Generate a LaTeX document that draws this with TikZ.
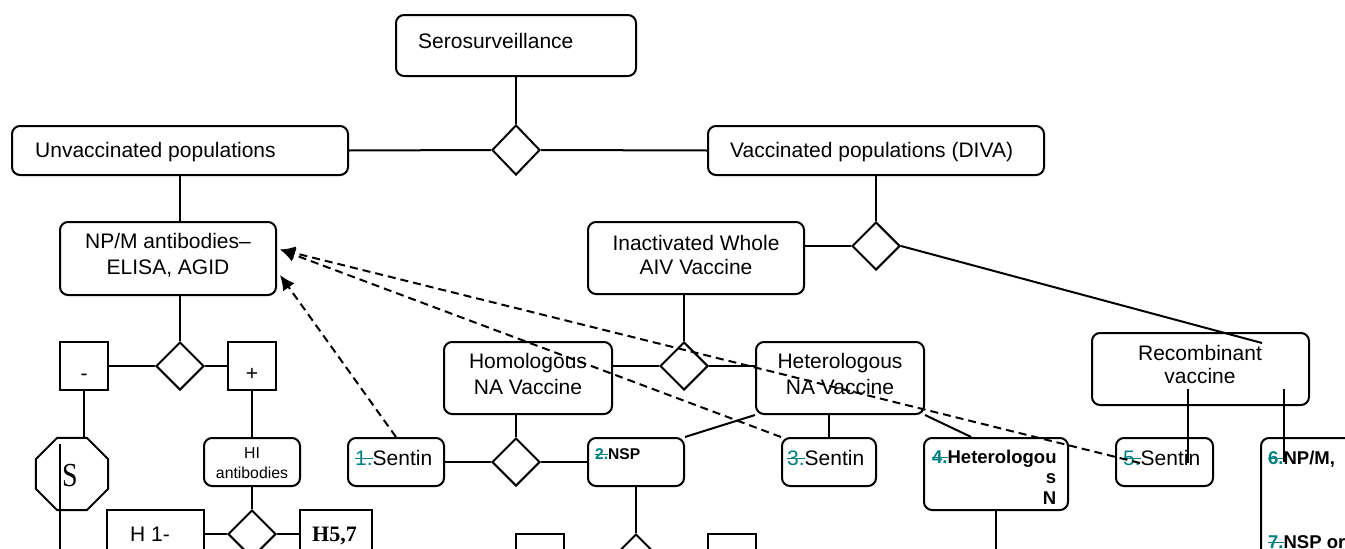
\documentclass[tikz,border=0pt]{standalone}
\usepackage{fontspec}
\setmainfont{Liberation Sans}
\newfontfamily\timesfont{Liberation Serif}
\usetikzlibrary{shapes.geometric,arrows.meta,calc}
\definecolor{numteal}{RGB}{0,128,128}
% teal item number with a line struck through it
\newcommand{\struck}[1]{\textcolor{numteal}{\setbox0=\hbox{#1}\rlap{\rule[0.27em]{\wd0}{0.07em}}\box0}}
\tikzset{
  box/.style={draw, rounded corners=8pt, line width=2pt, inner sep=0pt},
  sqbox/.style={draw, line width=2pt, inner sep=0pt},
  dia/.style={draw, diamond, line width=2pt, inner sep=0pt, minimum width=48pt, minimum height=48pt},
  link/.style={line width=2pt},
  ref/.style={line width=2pt, dash pattern=on 8pt off 5pt, -{Latex[length=15pt,width=14pt]}},
  txt/.style={inner sep=0pt, font=\fontsize{21}{26}\selectfont},
  smalltxt/.style={inner sep=0pt, font=\fontsize{15.8}{20}\selectfont},
  boldtxt/.style={inner sep=0pt, font=\fontsize{18.5}{20.5}\selectfont\bfseries},
}
\begin{document}
\begin{tikzpicture}[x=1pt, y=-1pt]
\useasboundingbox (0,0) rectangle (1345,549);
\clip (0,0) rectangle (1345,549);

% ---- boxes ----
\node[box, minimum width=240pt, minimum height=61pt] (sero) at (516,45.5) {};
\node[box, minimum width=336pt, minimum height=49pt] (unv) at (180,150.5) {};
\node[box, minimum width=336pt, minimum height=49pt] (vac) at (876,150.5) {};
\node[box, minimum width=216pt, minimum height=73pt] (npm) at (168,258.5) {};
\node[box, minimum width=216pt, minimum height=72pt] (inact) at (696,258) {};
\node[box, minimum width=168pt, minimum height=72pt] (homo) at (528,378) {};
\node[box, minimum width=168pt, minimum height=72pt] (het) at (840,378) {};
\node[box, minimum width=217pt, minimum height=72pt] (recomb) at (1200.5,369) {};
\node[box, minimum width=96pt, minimum height=48pt] (hi) at (252,462) {};
\node[box, minimum width=96pt, minimum height=48pt] (s1) at (396,462) {};
\node[box, minimum width=96pt, minimum height=48pt] (nsp) at (636,462) {};
\node[box, minimum width=94pt, minimum height=48pt] (s3) at (829,462) {};
\node[box, minimum width=144pt, minimum height=72pt] (b4) at (996,474) {};
\node[box, minimum width=97pt, minimum height=48pt] (s5) at (1164.5,462) {};
\node[box, minimum width=200pt, minimum height=400pt] (b67) at (1361,638) {};

\node[sqbox, minimum width=48pt, minimum height=48pt] (minus) at (84,366) {};
\node[sqbox, minimum width=48pt, minimum height=48pt] (plus) at (252,366) {};
\node[sqbox, minimum width=97pt, minimum height=100pt] (h1) at (155.5,560) {};
\node[sqbox, minimum width=72pt, minimum height=100pt] (h57) at (336,560) {};
\node[sqbox, minimum width=48pt, minimum height=48pt] (q1) at (540,558) {};
\node[sqbox, minimum width=48pt, minimum height=48pt] (q2) at (732,558) {};

\node[draw, line width=2pt, regular polygon, regular polygon sides=8, minimum size=78pt, inner sep=0pt] (oct) at (72,474) {};

% ---- decision diamonds ----
\node[dia, minimum height=50pt] (d1) at (516,150) {};
\node[dia] (d2) at (180,366) {};
\node[dia] (d3) at (252,534) {};
\node[dia] (d4) at (516,462) {};
\node[dia] (d5) at (636,558) {};
\node[dia] (d6) at (684,366) {};
\node[dia] (d7) at (876,246) {};

% ---- texts (multi-line ones are placed by their last baseline) ----
\node[txt, anchor=base west] (tsero) at (418,48) {Serosurveillance};
\node[txt, anchor=base west] (tunv) at (35,157) {Unvaccinated populations};
\node[txt, anchor=base west] (tvac) at (730,157) {Vaccinated populations (DIVA)};
\node[txt, anchor=base, align=center] (tnpm) at (168,274) {NP/M antibodies–\\ELISA, AGID};
\node[txt, anchor=base, align=center, font=\fontsize{21}{24}\selectfont] (tinact) at (696,274) {Inactivated Whole\\AIV Vaccine};
\node[txt, anchor=base, align=center] (thomo) at (528,394) {Homologous\\NA Vaccine};
\node[txt, anchor=base, align=center] (thet) at (840,394) {Heterologous\\NA Vaccine};
\node[txt, anchor=base, align=center, font=\fontsize{21}{23}\selectfont] (trec) at (1200,383) {Recombinant\\vaccine};
\node[txt, anchor=base] (tminus) at (84,380) {-};
\node[txt, anchor=base] (tplus) at (252,380) {+};
\node[inner sep=0pt, font=\timesfont\fontsize{28}{30}\selectfont, yscale=1.2] (tS) at (70,476) {S};
\node[smalltxt, anchor=base, align=center] (thi) at (252,478) {HI\\antibodies};
\node[txt, anchor=base west] (ts1) at (355,465) {\struck{1.}Sentin};
\node[inner sep=0pt, anchor=base west, font=\fontsize{15.6}{18}\selectfont\bfseries] (tnsp) at (595,459) {\struck{2.}NSP};
\node[txt, anchor=base west] (ts3) at (787,465) {\struck{3.}Sentin};
\node[boldtxt, anchor=base west, text width=124pt, align=left] (tb4) at (932,463) {\struck{4.}Heterologou\\\hspace*{\fill}s\\\hspace*{\fill}N};
\node[txt, anchor=base west] (ts5) at (1123,465) {\struck{5.}Sentin};
\node[boldtxt, anchor=base west, align=left] (t67) at (1268,548) {\struck{6.}NP/M,\\[63.5pt]\struck{7.}NSP or};
\node[txt, anchor=base west] (th1) at (130,541) {H 1-};
\node[inner sep=0pt, anchor=base west, font=\timesfont\fontsize{22}{24}\selectfont\bfseries] (th57) at (312,541) {H5,7};

% ---- free ends of connectors ----
\coordinate (rtop) at (1262,343);
\coordinate (ra) at (1188,389);
\coordinate (rb) at (1188,463);
\coordinate (rc) at (1284,389);
\coordinate (rd) at (1284,462);
\coordinate (sline) at (60,444);
\coordinate (sline2) at (60,560);
\coordinate (b4down) at (996,560);
\coordinate (c5) at (1140,463);

% ---- solid connectors ----
\draw[link] (sero.south) -- (d1.north);
\draw[link] (unv.east) -- (d1.west);
\draw[link] (d1.east) -- (vac.west);
\draw[link] (unv.south) -- (unv.south |- npm.north);
\draw[link] (d2.north |- npm.south) -- (d2.north);
\draw[link] (minus.east) -- (d2.west);
\draw[link] (d2.east) -- (plus.west);
\draw[link] (minus.south) -- (minus.south |- oct.north);
\draw[link] (sline) -- (sline2);
\draw[link] (plus.south) -- (hi.north);
\draw[link] (hi.south) -- (d3.north);
\draw[link] (h1.east |- d3.west) -- (d3.west);
\draw[link] (d3.east) -- (h57.west |- d3.east);
\draw[link] (vac.south) -- (d7.north);
\draw[link] (inact.east |- d7.west) -- (d7.west);
\draw[link] (d7.east) -- (rtop);
\draw[link] (d6.north |- inact.south) -- (d6.north);
\draw[link] (homo.east |- d6.west) -- (d6.west);
\draw[link] (d6.east) -- (het.west |- d6.east);
\draw[link] (d4.north |- homo.south) -- (d4.north);
\draw[link] (s1.east) -- (d4.west);
\draw[link] (d4.east) -- (nsp.west);
\draw[link] (nsp.south) -- (d5.north);
\draw[link] (nsp.north east) -- (het.south west);
\draw[link] (s3.north |- het.south) -- (s3.north);
\draw[link] (het.south east) -- ($(b4.north west)!0.33!(b4.north east)$);
\draw[link] (b4.south) -- (b4down);
\draw[link] (ra) -- (rb);
\draw[link] (rc) -- (rd);

% ---- dashed references back to the NP/M test ----
\draw[ref] (s1.north) -- ([xshift=3pt,yshift=-16.5pt]npm.east);
\draw[ref] (s3.north west) -- ([xshift=3pt,yshift=9pt]npm.east);
\draw[ref] (c5) -- ([xshift=3pt,yshift=9pt]npm.east);
\end{tikzpicture}
\end{document}
